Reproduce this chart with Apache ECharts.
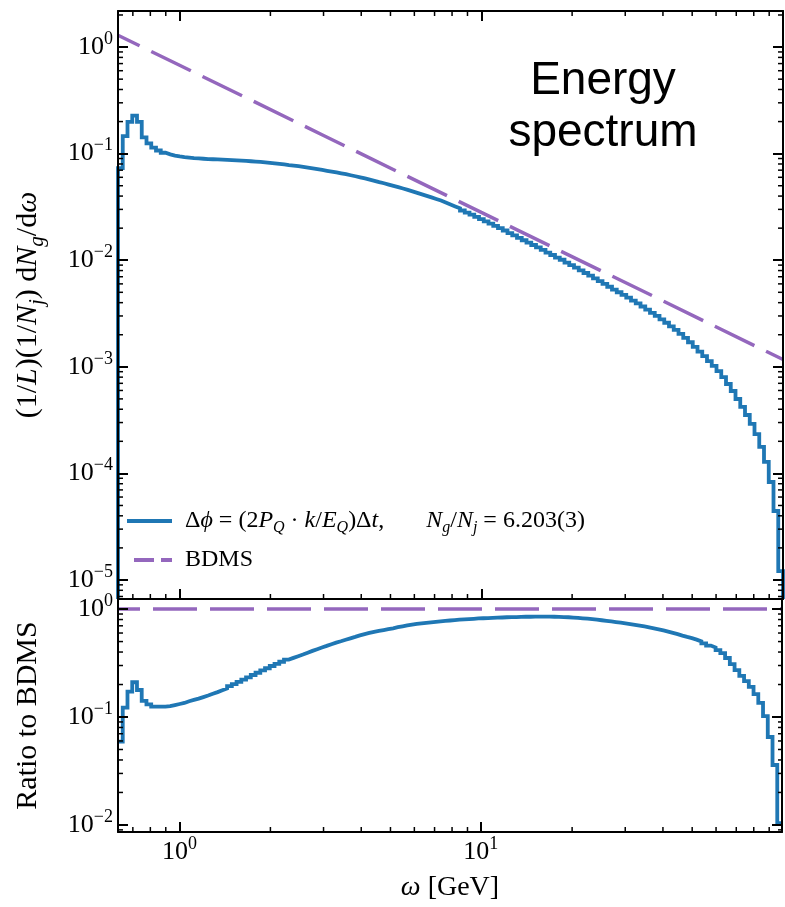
<!DOCTYPE html>
<html>
<head>
<meta charset="utf-8">
<script src="https://cdn.jsdelivr.net/npm/echarts@6/dist/echarts.min.js"></script>
<style>
  html, body { margin: 0; padding: 0; background: #fff; }
  #chart { width: 785px; height: 907px; }
</style>
</head>
<body>
<div id="chart"></div>
<script>
// binning of omega (GeV): log-spaced bins between the axis limits
const omegaMin = 0.625, omegaMax = 100, nBins = 140;
const topMin = 6.63e-6, topMax = 2.18;
const ratioMin = 0.0086, ratioMax = 1.24;

// (1/L)(1/N_j) dN_g/domega, one value per bin
const spectrum = [
  0.0733, 0.146, 0.199, 0.227, 0.199, 0.142, 0.125, 0.114, 0.107, 0.102,
  0.0985, 0.0960, 0.0943, 0.0929, 0.0919, 0.0909, 0.0902, 0.0896, 0.0890, 0.0886,
  0.0882, 0.0879, 0.0875, 0.0871, 0.0865, 0.0860, 0.0854, 0.0849, 0.0843, 0.0836,
  0.0829, 0.0820, 0.0811, 0.0802, 0.0792, 0.0781, 0.0772, 0.0762, 0.0750, 0.0739,
  0.0728, 0.0716, 0.0703, 0.0691, 0.0679, 0.0666, 0.0653, 0.0641, 0.0627, 0.0614,
  0.0599, 0.0585, 0.0570, 0.0556, 0.0541, 0.0528, 0.0513, 0.0499, 0.0485, 0.0471,
  0.0457, 0.0443, 0.0429, 0.0415, 0.0402, 0.0389, 0.0376, 0.0363, 0.0348, 0.0334,
  0.0320, 0.0307, 0.0293, 0.0280, 0.0268, 0.0255, 0.0243, 0.0232, 0.0221, 0.0210,
  0.0200, 0.0190, 0.0180, 0.0171, 0.0162, 0.0154, 0.0146, 0.0139, 0.0132, 0.0125,
  0.0118, 0.0112, 0.0106, 0.0101, 0.00951, 0.00899, 0.00851, 0.00804, 0.00759, 0.00716,
  0.00675, 0.00637, 0.00599, 0.00564, 0.00531, 0.00501, 0.00473, 0.00445, 0.00418, 0.00393,
  0.00368, 0.00344, 0.00321, 0.00300, 0.00279, 0.00259, 0.00240, 0.00222, 0.00204, 0.00187,
  0.00170, 0.00154, 0.00139, 0.00126, 0.00113, 0.00102, 0.000913, 0.000802, 0.000690, 0.000593,
  0.000499, 0.000420, 0.000353, 0.000291, 0.000234, 0.000177, 0.000128, 0.0000830, 0.0000444, 0.0000121
];

// ratio to BDMS, one value per bin
const ratioToBdms = [
  0.0591, 0.122, 0.172, 0.210, 0.178, 0.141, 0.131, 0.125, 0.125, 0.125,
  0.126, 0.129, 0.132, 0.135, 0.140, 0.144, 0.148, 0.153, 0.158, 0.164,
  0.170, 0.177, 0.184, 0.193, 0.202, 0.212, 0.222, 0.233, 0.245, 0.257,
  0.270, 0.283, 0.297, 0.311, 0.325, 0.340, 0.353, 0.366, 0.379, 0.394,
  0.410, 0.425, 0.441, 0.456, 0.473, 0.489, 0.503, 0.520, 0.536, 0.552,
  0.570, 0.586, 0.601, 0.615, 0.627, 0.639, 0.652, 0.664, 0.679, 0.692,
  0.705, 0.717, 0.728, 0.737, 0.745, 0.753, 0.761, 0.769, 0.778, 0.784,
  0.791, 0.798, 0.803, 0.808, 0.813, 0.819, 0.822, 0.826, 0.829, 0.833,
  0.836, 0.840, 0.841, 0.843, 0.847, 0.849, 0.849, 0.850, 0.850, 0.850,
  0.850, 0.849, 0.847, 0.843, 0.840, 0.834, 0.829, 0.822, 0.815, 0.806,
  0.798, 0.788, 0.778, 0.768, 0.758, 0.748, 0.737, 0.726, 0.714, 0.702,
  0.690, 0.677, 0.664, 0.650, 0.635, 0.619, 0.602, 0.586, 0.568, 0.552,
  0.538, 0.521, 0.502, 0.481, 0.459, 0.440, 0.417, 0.391, 0.352, 0.309,
  0.272, 0.240, 0.215, 0.190, 0.163, 0.135, 0.102, 0.0653, 0.0359, 0.0104
];

// BDMS reference curve
const bdmsOmega = [0.625, 1, 3, 10, 30, 100];
const bdmsValue = [1.29, 0.675, 0.148, 0.0281, 0.00618, 0.00117];
const bdmsRatioOmega = [0.625, 100];
const bdmsRatioValue = [1, 1];

// decades that carry tick labels
const xDecades = [0, 1];
const topDecades = [0, -1, -2, -3, -4, -5];
const ratioDecades = [0, -1, -2];

const BLUE = '#1f77b4', PURPLE = '#9467bd';
const SERIF = 'Liberation Serif';

const edges = [];
for (let i = 0; i <= nBins; i++) {
  edges.push(omegaMin * Math.pow(omegaMax / omegaMin, i / nBins));
}

function stepPoints(vals, floor) {
  const pts = [];
  if (floor != null) pts.push([edges[0], floor]);
  vals.forEach(function (v, i) {
    pts.push([edges[i], v]);
    pts.push([edges[i + 1], v]);
  });
  if (floor != null) pts.push([edges[nBins], floor]);
  return pts;
}

function pairs(xs, ys) {
  return xs.map(function (x, i) { return [x, ys[i]]; });
}

function expFormatter(decades) {
  return function (value) {
    const e = Math.log10(value);
    const k = Math.round(e);
    if (Math.abs(e - k) > 1e-6 || decades.indexOf(k) < 0) return '';
    return '{b|10}{s|' + (k < 0 ? '\u2212' + (-k) : k) + '}';
  };
}

const tickRich = {
  b: { fontFamily: SERIF, fontSize: 26, lineHeight: 34, color: '#000' },
  s: { fontFamily: SERIF, fontSize: 18, lineHeight: 17, verticalAlign: 'top', color: '#000' }
};
const legendRich = {
  r: { fontFamily: SERIF, fontSize: 24, lineHeight: 30, color: '#000' },
  i: { fontFamily: SERIF, fontSize: 24, fontStyle: 'italic', lineHeight: 30, color: '#000' },
  s: { fontFamily: SERIF, fontSize: 16, fontStyle: 'italic', lineHeight: 17, verticalAlign: 'bottom', color: '#000' }
};
const nameRich = {
  r: { fontFamily: SERIF, fontSize: 30, lineHeight: 40, color: '#000' },
  i: { fontFamily: SERIF, fontSize: 30, fontStyle: 'italic', lineHeight: 40, color: '#000' },
  s: { fontFamily: SERIF, fontSize: 21, fontStyle: 'italic', lineHeight: 22, verticalAlign: 'bottom', color: '#000' }
};
const xNameRich = {
  r: { fontFamily: SERIF, fontSize: 28, lineHeight: 36, color: '#000' },
  i: { fontFamily: SERIF, fontSize: 28, fontStyle: 'italic', lineHeight: 36, color: '#000' }
};

const legendLabels = {
  'dphi': '{r|\u0394}{i|\u03d5}{r| = (2}{i|P}{s|Q}{r| \u00b7 }{i|k}{r|/}{i|E}{s|Q}{r|)\u0394}{i|t}{r|,       }{i|N}{s|g}{r|/}{i|N}{s|j}{r| = 6.203(3)}',
  'BDMS': '{r|BDMS}'
};

function xAxisCfg(grid, pos, labels) {
  return {
    type: 'log', logBase: 10, gridIndex: grid, position: pos,
    min: omegaMin, max: omegaMax, z: 5,
    axisLine: { show: true, lineStyle: { color: '#000', width: 2 } },
    axisTick: { show: labels !== null, inside: true, length: 10, lineStyle: { color: '#000', width: 2 } },
    axisLabel: { show: !!labels, margin: 3, formatter: expFormatter(xDecades), rich: tickRich },
    splitLine: { show: false }
  };
}

function yAxisCfg(grid, pos, min, max, decades, labels) {
  return {
    type: 'log', logBase: 10, gridIndex: grid, position: pos,
    min: min, max: max, z: 5,
    axisLine: { show: true, lineStyle: { color: '#000', width: 2 } },
    axisTick: { show: true, inside: true, length: 10, lineStyle: { color: '#000', width: 2 } },
    axisLabel: { show: labels, margin: 5, formatter: expFormatter(decades), rich: tickRich },
    splitLine: { show: false }
  };
}

const chart = echarts.init(document.getElementById('chart'));

const xBottom = xAxisCfg(1, 'bottom', true);
xBottom.name = '{i|\u03c9}{r| [GeV]}';
xBottom.nameLocation = 'middle';
xBottom.nameGap = 38;
xBottom.nameTextStyle = { rich: xNameRich };

const yTop = yAxisCfg(0, 'left', topMin, topMax, topDecades, true);
yTop.name = '{r|(1/}{i|L}{r|)(1/}{i|N}{s|j}{r|) d}{i|N}{s|g}{r|/d}{i|\u03c9}';
yTop.nameLocation = 'middle';
yTop.nameRotate = 90;
yTop.nameGap = 70;
yTop.nameTextStyle = { rich: nameRich };

const yRatio = yAxisCfg(1, 'left', ratioMin, ratioMax, ratioDecades, true);
yRatio.name = '{r|Ratio to BDMS}';
yRatio.nameLocation = 'middle';
yRatio.nameRotate = 90;
yRatio.nameGap = 70;
yRatio.nameTextStyle = { rich: nameRich };

const option = {
  animation: false,
  backgroundColor: '#fff',
  grid: [
    { left: 118, width: 665, top: 11, height: 588 },
    { left: 118, width: 665, top: 599, height: 233 }
  ],
  xAxis: [
    xAxisCfg(0, 'bottom', false),
    xAxisCfg(0, 'top', false),
    xBottom,
    xAxisCfg(1, 'top', null)
  ],
  yAxis: [
    yTop,
    yAxisCfg(0, 'right', topMin, topMax, topDecades, false),
    yRatio,
    yAxisCfg(1, 'right', ratioMin, ratioMax, ratioDecades, false)
  ],
  legend: {
    orient: 'vertical', left: 125, top: 509, padding: 0,
    itemWidth: 45, itemHeight: 14, itemGap: 12,
    selectedMode: false,
    itemStyle: { opacity: 0 },
    lineStyle: { width: 4 },
    formatter: function (name) { return legendLabels[name]; },
    textStyle: { rich: legendRich, padding: [0, 0, 0, 8] },
    data: [
      { name: 'dphi' },
      { name: 'BDMS', lineStyle: { type: [20, 7], width: 4 } }
    ]
  },
  series: [
    {
      name: 'BDMS', type: 'line', xAxisIndex: 0, yAxisIndex: 0,
      data: pairs(bdmsOmega, bdmsValue), showSymbol: false, symbol: 'none',
      lineStyle: { color: PURPLE, width: 3.5, type: [44, 13], dashOffset: 20 },
      itemStyle: { color: PURPLE }, z: 2
    },
    {
      name: 'dphi', type: 'line', xAxisIndex: 0, yAxisIndex: 0,
      data: stepPoints(spectrum, topMin), showSymbol: false, symbol: 'none',
      lineStyle: { color: BLUE, width: 3.8, join: 'miter' },
      itemStyle: { color: BLUE }, z: 3
    },
    {
      name: 'BDMS', type: 'line', xAxisIndex: 2, yAxisIndex: 2,
      data: pairs(bdmsRatioOmega, bdmsRatioValue), showSymbol: false, symbol: 'none',
      lineStyle: { color: PURPLE, width: 3.5, type: [44, 13], dashOffset: 22 },
      itemStyle: { color: PURPLE }, z: 2
    },
    {
      name: 'dphi', type: 'line', xAxisIndex: 2, yAxisIndex: 2,
      data: stepPoints(ratioToBdms, null), showSymbol: false, symbol: 'none',
      lineStyle: { color: BLUE, width: 3.8, join: 'miter' },
      itemStyle: { color: BLUE }, z: 3
    }
  ]
};

chart.setOption(option);

// minor ticks on the log axes, placed with the library's own scales
function minorValues(min, max) {
  const out = [];
  for (let k = Math.floor(Math.log10(min)); k <= Math.ceil(Math.log10(max)); k++) {
    for (let m = 2; m <= 9; m++) {
      const v = m * Math.pow(10, k);
      if (v > min && v < max) out.push(v);
    }
  }
  return out;
}

function tickLine(x1, y1, x2, y2) {
  return {
    type: 'line', z: 10, silent: true,
    shape: { x1: x1, y1: y1, x2: x2, y2: y2 },
    style: { stroke: '#000', lineWidth: 1.5 }
  };
}

const L = 5;
const g = [];
const xL = chart.convertToPixel({ xAxisIndex: 0 }, omegaMin);
const xR = chart.convertToPixel({ xAxisIndex: 0 }, omegaMax);
const yT0 = chart.convertToPixel({ yAxisIndex: 0 }, topMax);
const yB0 = chart.convertToPixel({ yAxisIndex: 0 }, topMin);
const yB1 = chart.convertToPixel({ yAxisIndex: 2 }, ratioMin);

minorValues(omegaMin, omegaMax).forEach(function (v) {
  const px = chart.convertToPixel({ xAxisIndex: 0 }, v);
  g.push(tickLine(px, yB0, px, yB0 - L));
  g.push(tickLine(px, yT0, px, yT0 + L));
  g.push(tickLine(px, yB1, px, yB1 - L));
});
minorValues(topMin, topMax).forEach(function (v) {
  const py = chart.convertToPixel({ yAxisIndex: 0 }, v);
  g.push(tickLine(xL, py, xL + L, py));
  g.push(tickLine(xR, py, xR - L, py));
});
minorValues(ratioMin, ratioMax).forEach(function (v) {
  const py = chart.convertToPixel({ yAxisIndex: 2 }, v);
  g.push(tickLine(xL, py, xL + L, py));
  g.push(tickLine(xR, py, xR - L, py));
});

g.push({
  type: 'text', x: 603, y: 81, z: 10,
  style: { text: 'Energy', fontFamily: 'Liberation Sans', fontSize: 46, align: 'center', verticalAlign: 'middle', fill: '#000' }
});
g.push({
  type: 'text', x: 603, y: 133, z: 10,
  style: { text: 'spectrum', fontFamily: 'Liberation Sans', fontSize: 46, align: 'center', verticalAlign: 'middle', fill: '#000' }
});

chart.setOption({ graphic: g });
</script>
</body>
</html>
